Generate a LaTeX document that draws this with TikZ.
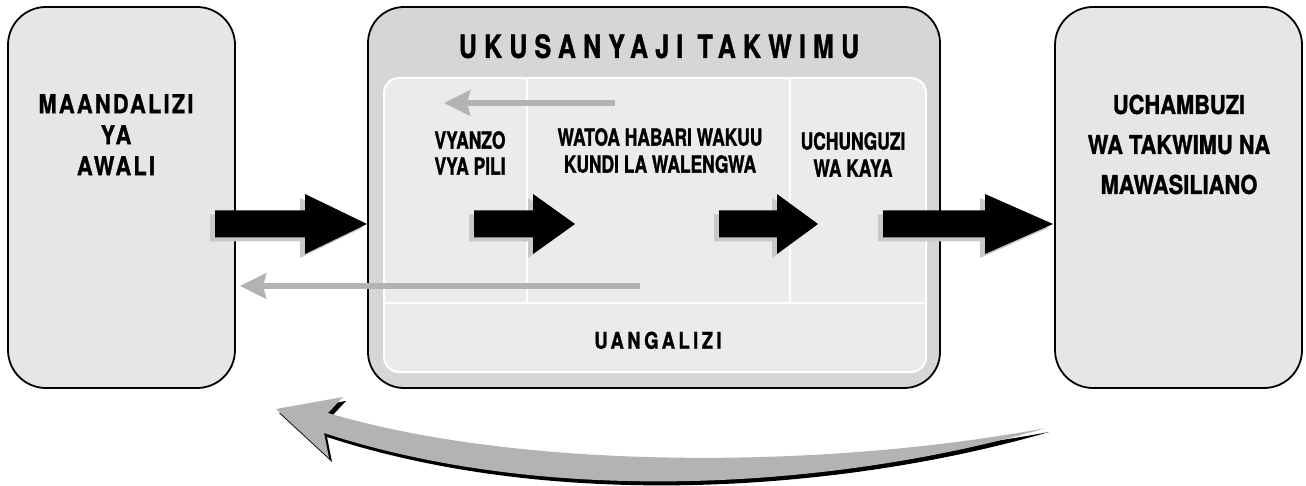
\documentclass[tikz,border=0pt]{standalone}
\usepackage{fontspec}
\newfontfamily\labfont{TeX Gyre Heros}[FakeStretch=0.74,FakeBold=1.2]
\newfontfamily\sidefont{TeX Gyre Heros}[FakeStretch=0.84,FakeBold=1.2]
\newfontfamily\sidesp{TeX Gyre Heros}[FakeStretch=0.84,FakeBold=1.2,LetterSpace=8.5]
\newfontfamily\titlefont{TeX Gyre Heros}[FakeStretch=0.78,FakeBold=1.2,LetterSpace=22.5]
\newfontfamily\uangfont{TeX Gyre Heros}[FakeStretch=0.8,FakeBold=1.2,LetterSpace=15]
\usetikzlibrary{arrows.meta,calc}
\definecolor{sidefill}{RGB}{230,230,230}
\definecolor{midfill}{RGB}{214,214,214}
\definecolor{innerfill}{RGB}{235,235,235}
\definecolor{arrgray}{RGB}{179,179,179}
\definecolor{shadowgray}{RGB}{200,200,200}
\newcommand{\blockarrow}[3]{%
  \foreach \dx/\dy/\col in {5pt/4pt/shadowgray, 0pt/0pt/black}{%
    \fill[fill=\col] let \p1=(#1), \p2=(#2) in
      ({\x1-\dx},{\y1+13.5pt-\dy}) -- ({\x2-#3-\dx},{\y1+13.5pt-\dy}) --
      ({\x2-#3-\dx},{\y1+30pt-\dy}) -- ({\x2-\dx},{\y1-\dy}) --
      ({\x2-#3-\dx},{\y1-30pt-\dy}) -- ({\x2-#3-\dx},{\y1-13.5pt-\dy}) --
      ({\x1-\dx},{\y1-13.5pt-\dy}) -- cycle;
  }}
\begin{document}
\begin{tikzpicture}[x=1pt,y=-1pt,
  sidebox/.style={draw=black,line width=1.8pt,fill=sidefill,rounded corners=38pt,inner sep=0pt},
  midbox/.style={draw=black,line width=1.8pt,fill=midfill,rounded corners=36pt,inner sep=0pt},
  innerbox/.style={draw=white,line width=2pt,fill=innerfill,rounded corners=15pt,inner sep=0pt},
  divider/.style={draw=white,line width=1.5pt},
  lab/.style={inner sep=0pt,anchor=north,align=center,text=black},
  thinarrow/.style={draw=arrgray,line width=6pt,-{Stealth[length=26pt,width=25pt,inset=3pt]}}]
\useasboundingbox (0,0) rectangle (1306,486);

% boxes
\node[sidebox,minimum width=227pt,minimum height=381pt] (L) at (121.5,197.5) {};
\node[midbox,minimum width=572pt,minimum height=381pt] (M) at (654,197.5) {};
\node[sidebox,minimum width=247pt,minimum height=381pt] (R) at (1178.5,197.5) {};
\node[innerbox,minimum width=542pt,minimum height=294pt] (I) at (655,225) {};
\draw[divider] (527,78) -- (527,303);
\draw[divider] (790,78) -- (790,303);
\draw[divider] (384,303) -- (926,303);

% labels
\node[lab,font=\sidesp\bfseries\fontsize{26}{31}\selectfont] (tL) at (116,94) {MAANDALIZI\\YA\\AWALI};
\node[lab,font=\sidefont\bfseries\fontsize{26}{40}\selectfont] (tR) at (1179,94.5) {UCHAMBUZI\\WA TAKWIMU NA\\MAWASILIANO};
\node[lab,font=\titlefont\bfseries\fontsize{32}{36}\selectfont] (tM) at (659,34) {UKUSANYAJI TAKWIMU};
\node[lab,font=\labfont\bfseries\fontsize{23.5}{26}\selectfont] (t1) at (470,131) {VYANZO\\VYA PILI};
\node[lab,font=\labfont\bfseries\fontsize{23.5}{27}\selectfont] (t2) at (660,128) {WATOA HABARI WAKUU\\KUNDI LA WALENGWA};
\node[lab,font=\labfont\bfseries\fontsize{23.5}{27}\selectfont] (t3) at (853,132) {UCHUNGUZI\\WA KAYA};
\node[lab,font=\uangfont\bfseries\fontsize{23}{26}\selectfont] (t4) at (658,331.5) {UANGALIZI};

% thin gray arrows
\coordinate (g1s) at (615,103);
\coordinate (g1e) at (444,103);
\coordinate (g2s) at (640,286);
\coordinate (g2e) at (240,286);
\draw[thinarrow] (g1s) -- (g1e);
\draw[thinarrow] (g2s) -- (g2e);

% black block arrows
\coordinate (a1s) at (215,224); \coordinate (a1e) at (367,224);
\coordinate (a2s) at (474,224); \coordinate (a2e) at (575,224);
\coordinate (a3s) at (719,224); \coordinate (a3e) at (818,224);
\coordinate (a4s) at (883,224); \coordinate (a4e) at (1053,224);
\blockarrow{a1s}{a1e}{62pt}
\blockarrow{a2s}{a2e}{42pt}
\blockarrow{a3s}{a3e}{41pt}
\blockarrow{a4s}{a4e}{68pt}

% curved return arrow
\fill[black,shift={(3,4)}] (276,409) -- (343,397) -- (328,413)
  .. controls (520,470) and (820,470) .. (1046,428)
  .. controls (850,485) and (560,510) .. (324,433) -- (329,458) -- cycle;
\fill[arrgray] (276,409) -- (343,397) -- (328,413)
  .. controls (520,470) and (820,470) .. (1046,428)
  .. controls (850,485) and (560,510) .. (324,433) -- (329,458) -- cycle;
\end{tikzpicture}
\end{document}
